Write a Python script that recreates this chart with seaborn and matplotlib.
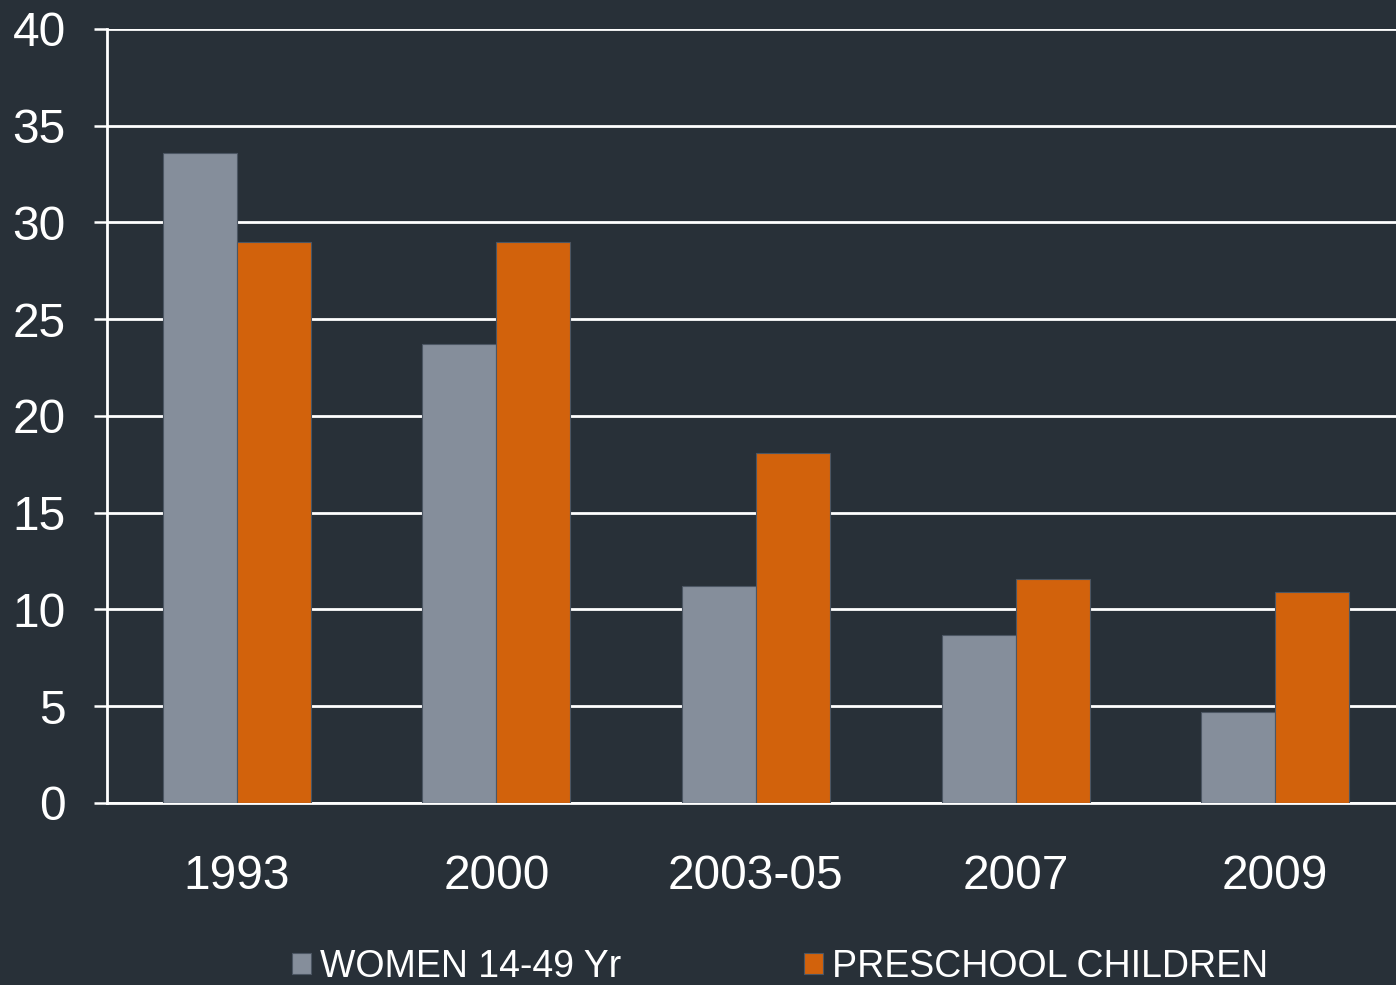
import pandas as pd
import matplotlib
matplotlib.use("Agg")
import matplotlib.pyplot as plt
import seaborn as sns

years = ["1993", "2000", "2003-05", "2007", "2009"]
women = [33.6, 23.7, 11.2, 8.7, 4.7]
children = [29.0, 29.0, 18.1, 11.6, 10.9]
series_names = ["WOMEN 14-49 Yr", "PRESCHOOL CHILDREN"]
y_ticks = [0, 5, 10, 15, 20, 25, 30, 35, 40]

bg = "#283038"
colors = {series_names[0]: "#858E9B", series_names[1]: "#D2620C"}

df = pd.DataFrame({
    "year": years * 2,
    "value": women + children,
    "group": [series_names[0]] * len(years) + [series_names[1]] * len(years),
})

sns.set_theme(style="white")
plt.rcParams["font.family"] = ["Liberation Sans", "DejaVu Sans"]

fig = plt.figure(figsize=(13.96, 9.85), dpi=100, facecolor=bg)
ax = fig.add_axes([0.0766, 0.1848, 0.9298, 0.7858])
ax.set_facecolor(bg)

sns.barplot(data=df, x="year", y="value", hue="group", palette=colors,
            width=0.57, edgecolor="#4C5663", linewidth=0.8, saturation=1,
            ax=ax, zorder=3)

ax.set_xlim(-0.5, 4.5)
ax.set_ylim(0, 40)
ax.set_yticks(y_ticks)
ax.set_yticklabels([str(t) for t in y_ticks])
ax.yaxis.grid(True, color="white", linewidth=2.0, zorder=0)
ax.set_axisbelow(True)

# category boundaries as ticks, labels in the middle
ax.set_xticks([i - 0.5 for i in range(len(years) + 1)])
ax.set_xticklabels([""] * (len(years) + 1))
ax.set_xticks(range(len(years)), minor=True)
ax.set_xticklabels(years, minor=True)
ax.tick_params(axis="x", which="major", length=9.5, width=1.8, color="white", direction="out")
ax.tick_params(axis="x", which="minor", length=0, pad=37, labelsize=34.5, labelcolor="white")
ax.tick_params(axis="y", length=9.5, width=1.8, color="white", pad=20, labelsize=34.5, labelcolor="white", left=True)

for s in ["top", "right"]:
    ax.spines[s].set_visible(False)
for s in ["left", "bottom"]:
    ax.spines[s].set_color("white")
    ax.spines[s].set_linewidth(2.0)

ax.set_xlabel("")
ax.set_ylabel("")

handles, labels = ax.get_legend_handles_labels()
ax.get_legend().remove()
leg = fig.legend(handles, labels, loc="upper left", bbox_to_anchor=(0.209, 0.037),
                 ncol=2, frameon=False, borderpad=0, handlelength=0.5, handleheight=0.5,
                 handletextpad=0.24, columnspacing=4.9, borderaxespad=0,
                 prop={"size": 27})
for t in leg.get_texts():
    t.set_color("white")

fig.savefig("out.png", dpi=100, facecolor=bg)
